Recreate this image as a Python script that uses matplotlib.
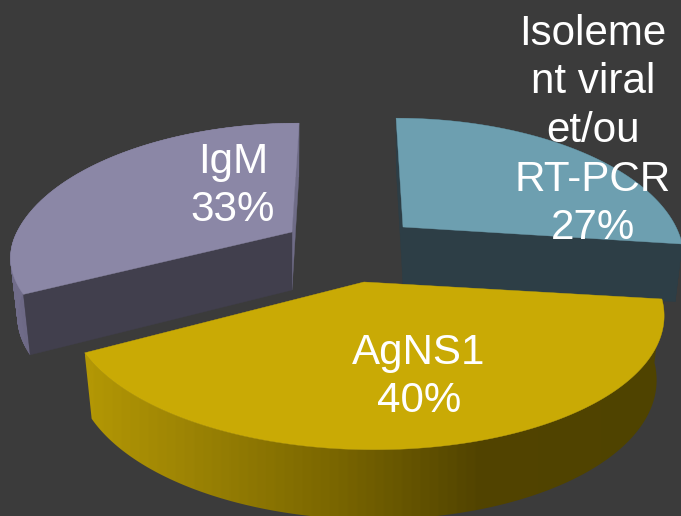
import numpy as np
import matplotlib
matplotlib.use("Agg")
import matplotlib.pyplot as plt
from matplotlib.patches import Polygon
from matplotlib.colors import LinearSegmentedColormap

# --- data ---
categories = ["Isolement viral\net/ou RT-PCR", "AgNS1", "IgM"]
wrapped_labels = ["Isoleme\nnt viral\net/ou\nRT-PCR", "AgNS1", "IgM"]
percent_values = [27, 40, 33]

# --- layout / style ---
W, H = 681, 516
BG = "#3b3b3b"
top_colors = ["#6d9fb0", "#c9aa05", "#8b87a6"]
end_cut_colors = ["#2d3e46", "#4f4300", "#6f6c87"]    # face at the slice's last angle
start_cut_colors = ["#2d3e46", "#4f4300", "#413f4d"]  # face at the slice's first angle
side_stops = [
    [(0.0, "#2d3e46"), (1.0, "#2d3e46")],
    [(0.0, "#b39705"), (0.19, "#9a8204"), (0.43, "#7a6600"), (0.68, "#524400"), (1.0, "#4f4300")],
    [(0.0, "#6f6b88"), (1.0, "#7f7b99")],
]
apex = [(403, 227), (364, 282), (292, 232)]
radius_x = [273, 291, 275]
front_scale = [1.0, 1.0, 0.88]
back_shear = [6.9, 10.0, -7.0]
front_shear = [6.9, 10.0, 0.0]
depths = [57.0, 63.0, 58.0]
B0, K = 132.0, 0.213
SX, SY = 0.975, 1.04
label_xy = [(593, 131), (419, 377), (233, 186)]
START = 270.0


def project(theta, i, bottom=False):
    t = np.deg2rad(theta)
    X, Y = np.cos(t), np.sin(t)
    w = 1.0 / (1.0 - K * Y)
    ax0, ay0 = apex[i]
    x = radius_x[i] * X * w + np.where(Y > 0, front_shear[i], back_shear[i]) * Y
    y = B0 * Y * w * np.where(Y > 0, front_scale[i], 1.0)
    if bottom:
        return ax0 + SX * x, ay0 + depths[i] + SY * y
    return ax0 + x, ay0 + y


def apex_pt(i, bottom=False):
    ax0, ay0 = apex[i]
    return (ax0, ay0 + depths[i]) if bottom else (ax0, ay0)


fig = plt.figure(figsize=(W / 100, H / 100), dpi=100, facecolor=BG)
ax = fig.add_axes([0, 0, 1, 1])

angles = START + np.cumsum([0] + percent_values) * 3.6


def face(pts, color, z):
    ax.add_patch(Polygon(pts, closed=True, facecolor=color, edgecolor=color, lw=0.3, zorder=z))


for i in [0, 2, 1]:
    base = {0: 1, 2: 1, 1: 10}[i]
    a0, a1 = angles[i], angles[i + 1]
    tt = np.linspace(a0, a1, 300)
    top = np.column_stack(project(tt, i))
    bot = np.column_stack(project(tt, i, True))
    cmap = LinearSegmentedColormap.from_list("s", side_stops[i], N=64)
    if i == 1:
        # outer rim: horizontal gradient clipped to the rim outline
        rim = Polygon(np.vstack([top, bot[::-1]]), closed=True, facecolor="none", edgecolor="none")
        ax.add_patch(rim)
        pts = np.vstack([top, bot])
        grad = np.linspace(1, 0, 256)[None, :]
        im = ax.imshow(grad, cmap=cmap.reversed(), extent=(pts[:, 0].min(), pts[:, 0].max(), H + 40, -40),
                       aspect="auto", zorder=base, interpolation="bilinear")
        im.set_clip_path(rim)
    else:
        # outer rim: quads, so the silhouette where the rim folds is filled too
        for k in range(0, len(tt) - 1):
            quad = [top[k], top[k + 1], bot[k + 1], bot[k]]
            face(quad, cmap(k / (len(tt) - 2)), base)
    # radial cut faces (the yellow slice's faces look away from the viewer)
    if i != 1:
        for ang, col in ((a1, end_cut_colors[i]), (a0, start_cut_colors[i])):
            face([apex_pt(i), project(ang, i), project(ang, i, True), apex_pt(i, True)], col, base + 1)
    # top surface
    ax.add_patch(Polygon(np.vstack([apex_pt(i), top]), closed=True,
                         facecolor=top_colors[i], edgecolor=top_colors[i], lw=0.3, zorder=base + 2))

ax.set_xlim(0, W)
ax.set_ylim(H, 0)
ax.set_aspect("auto")
ax.axis("off")

for lab, val, (x, y) in zip(wrapped_labels, percent_values, label_xy):
    ax.text(x, y, f"{lab}\n{val}%", color="white", fontsize=30.3, family="Liberation Sans",
            ha="center", va="center", multialignment="center", linespacing=1.28, zorder=30)

fig.savefig("out.png", dpi=100, facecolor=BG)
